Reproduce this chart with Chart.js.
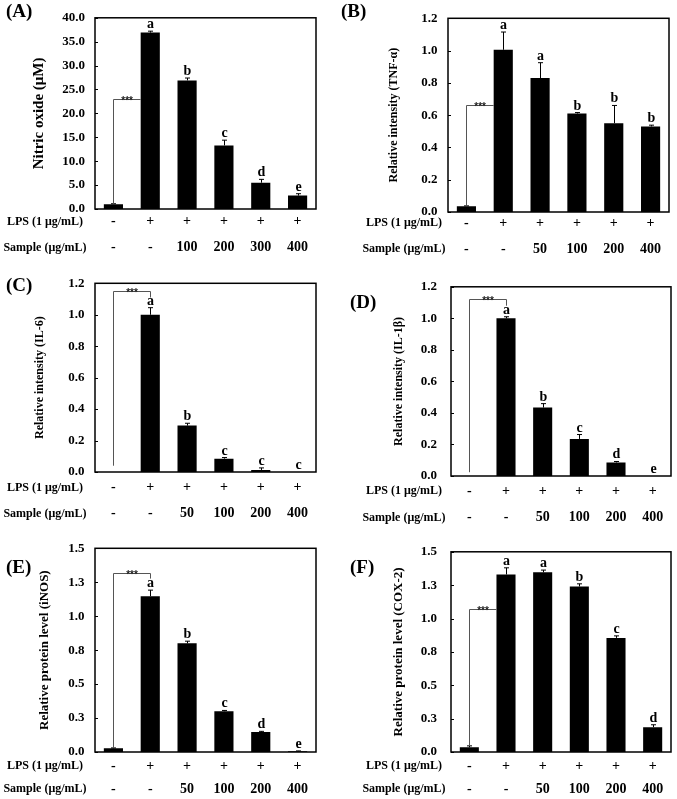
<!DOCTYPE html>
<html>
<head>
<meta charset="utf-8">
<script src="https://cdn.jsdelivr.net/npm/chart.js@4.4.1/dist/chart.umd.min.js"></script>
<style>
  html, body { margin: 0; padding: 0; background: #fff; }
  #wrap { position: relative; width: 677px; height: 799px; }
  canvas { position: absolute; }
</style>
</head>
<body>
<div id="wrap">
  <canvas id="chartA" width="338" height="265" style="left:0;top:0"></canvas>
  <canvas id="chartB" width="339" height="265" style="left:338px;top:0"></canvas>
  <canvas id="chartC" width="338" height="265" style="left:0;top:265px"></canvas>
  <canvas id="chartD" width="339" height="265" style="left:338px;top:265px"></canvas>
  <canvas id="chartE" width="338" height="269" style="left:0;top:530px"></canvas>
  <canvas id="chartF" width="339" height="269" style="left:338px;top:530px"></canvas>
</div>
<script>
const SERIF = "'Liberation Serif', 'Times New Roman', serif";

// x rows
const lpsRow = ['-', '+', '+', '+', '+', '+'];
const sampleRowA = ['-', '-', '100', '200', '300', '400'];
const sampleRowB = ['-', '-', '50', '100', '200', '400'];
const rowNames = ['LPS (1 μg/mL)', 'Sample (μg/mL)'];

// (A) nitric oxide
const noValues = [1.0, 36.9, 26.9, 13.3, 5.5, 2.8];
const noErrors = [0.1, 0.3, 0.5, 1.1, 0.7, 0.4];
const noLetters = ['', 'a', 'b', 'c', 'd', 'e'];
const noBracket = [1.0, 23.1, null];   // start, top, end (null = stop at bar edge)

// (B) TNF-a
const tnfValues = [0.035, 1.005, 0.83, 0.61, 0.55, 0.53];
const tnfErrors = [0.003, 0.11, 0.095, 0.006, 0.11, 0.008];
const tnfLetters = ['', 'a', 'a', 'b', 'b', 'b'];
const tnfBracket = [0.035, 0.66, null];

// (C) IL-6
const il6Values = [0.0, 1.0, 0.295, 0.085, 0.013, 0.0];
const il6Errors = [0, 0.045, 0.015, 0.007, 0.013, 0];
const il6Letters = ['', 'a', 'b', 'c', 'c', 'c'];
const il6Bracket = [0.04, 1.15, 1.11];

// (D) IL-1b
const il1Values = [0.0, 1.0, 0.434, 0.235, 0.086, 0.0];
const il1Errors = [0, 0.01, 0.025, 0.028, 0.006, 0];
const il1Letters = ['', 'a', 'b', 'c', 'd', 'e'];
const il1Bracket = [0.024, 1.12, 1.08];

// (E) iNOS
const inosValues = [0.027, 1.147, 0.80, 0.30, 0.147, 0.005];
const inosErrors = [0.003, 0.045, 0.016, 0.006, 0.005, 0.003];
const inosLetters = ['', 'a', 'b', 'c', 'd', 'e'];
const inosBracket = [0.03, 1.318, 1.277];

// (F) COX-2
const coxValues = [0.035, 1.33, 1.346, 1.24, 0.855, 0.186];
const coxErrors = [0.011, 0.05, 0.017, 0.02, 0.015, 0.018];
const coxLetters = ['', 'a', 'a', 'b', 'c', 'd'];
const coxBracket = [0.046, 1.074, null];

const annotate = {
  id: 'annotate',
  afterDraw(chart, args, o) {
    const { ctx, chartArea: a, scales: { x, y } } = chart;
    const bars = chart.getDatasetMeta(0).data;
    const vals = chart.data.datasets[0].data;
    ctx.save();

    // frame + small inward ticks
    ctx.strokeStyle = '#000';
    ctx.lineWidth = 1.5;
    ctx.strokeRect(a.left, a.top, a.width, a.height);
    ctx.lineWidth = 1;
    y.ticks.forEach((t, i) => {
      const py = Math.round(y.getPixelForTick(i)) + 0.5;
      ctx.beginPath();
      ctx.moveTo(a.left, py);
      ctx.lineTo(a.left + 3, py);
      ctx.stroke();
    });

    // error bars and letters
    ctx.font = 'bold 14px ' + SERIF;
    ctx.textAlign = 'center';
    ctx.textBaseline = 'alphabetic';
    ctx.fillStyle = '#000';
    vals.forEach((v, i) => {
      const bx = Math.round(bars[i].x) + 0.5;
      const top = y.getPixelForValue(v + o.errors[i]);
      if (o.errors[i] > 0) {
        ctx.beginPath();
        ctx.moveTo(bx, y.getPixelForValue(v));
        ctx.lineTo(bx, top);
        ctx.moveTo(bx - 2.5, top);
        ctx.lineTo(bx + 2.5, top);
        ctx.stroke();
      }
      if (o.letters[i]) ctx.fillText(o.letters[i], bx, top - 3);
    });

    // significance bracket
    const [start, high, end] = o.bracket;
    const x0 = Math.round(bars[0].x) + 0.5;
    const x1 = end == null ? bars[1].x - bars[1].width / 2 : Math.round(bars[1].x) + 0.5;
    const yh = Math.round(y.getPixelForValue(high)) + 0.5;
    ctx.strokeStyle = '#555';
    ctx.beginPath();
    ctx.moveTo(x0, y.getPixelForValue(start));
    ctx.lineTo(x0, yh);
    ctx.lineTo(x1, yh);
    if (end != null) ctx.lineTo(x1, y.getPixelForValue(end));
    ctx.stroke();
    ctx.fillStyle = '#222';
    ctx.font = 'bold 10px "Liberation Sans", Arial, sans-serif';
    ctx.fillText('***', (x0 + x1) / 2, yh + 4);

    // row names under the axis
    ctx.fillStyle = '#000';
    ctx.font = 'bold 12px ' + SERIF;
    ctx.textBaseline = 'middle';
    rowNames.forEach((name, i) => {
      ctx.fillText(name, o.rowX, x.top + o.tickPad + o.rowGap / 2 + i * o.rowGap);
    });

    // panel tag
    ctx.font = 'bold 19px ' + SERIF;
    ctx.textAlign = 'left';
    ctx.fillText(o.tag, o.tagX, o.tagY);
    ctx.restore();
  }
};

function makePanel(id, p) {
  const tickPad = p.rowOffset - p.rowGap / 2;
  const tickFont = { family: SERIF, size: 13, weight: 'bold' };
  new Chart(document.getElementById(id), {
    type: 'bar',
    data: {
      labels: p.sample.map((s, i) => [lpsRow[i], s]),
      datasets: [{
        data: p.values,
        backgroundColor: '#000',
        borderWidth: 0,
        barPercentage: 0.52,
        categoryPercentage: 1
      }]
    },
    options: {
      responsive: false,
      animation: false,
      layout: {
        autoPadding: false,
        padding: { left: 0, top: p.box.top, right: p.width - p.box.right, bottom: 0 }
      },
      scales: {
        x: {
          grid: { display: false, drawTicks: false },
          border: { display: false },
          ticks: {
            color: '#000',
            padding: tickPad,
            maxRotation: 0,
            autoSkip: false,
            font: { family: SERIF, size: 14, weight: 'bold', lineHeight: p.rowGap / 14 }
          },
          afterFit: s => { s.height = p.height - p.box.bottom; }
        },
        y: {
          min: 0,
          max: p.max,
          grid: { display: false, drawTicks: false },
          border: { display: false },
          ticks: {
            stepSize: p.step,
            color: '#000',
            padding: p.yPad,
            font: tickFont,
            callback: v => Number(v).toFixed(1)
          },
          title: {
            display: true,
            text: p.title,
            color: '#000',
            font: { family: SERIF, size: p.titleSize, weight: 'bold' },
            padding: { top: p.titleX - p.titleSize * 0.6, bottom: 0 }
          },
          afterFit: s => { s.width = p.box.left; }
        }
      },
      plugins: {
        legend: { display: false },
        tooltip: { enabled: false },
        annotate: {
          errors: p.errors,
          letters: p.letters,
          bracket: p.bracket,
          rowX: p.rowX,
          rowGap: p.rowGap,
          tickPad: tickPad,
          tag: p.tag,
          tagX: p.tagX,
          tagY: p.tagY
        }
      }
    },
    plugins: [annotate]
  });
}

makePanel('chartA', {
  values: noValues, errors: noErrors, letters: noLetters, bracket: noBracket, sample: sampleRowA,
  title: 'Nitric oxide (μM)', titleSize: 15, titleX: 39, max: 40, step: 5,
  width: 338, height: 265, box: { left: 95, top: 6, right: 316, bottom: 209 },
  yPad: 10, rowOffset: 12.7, rowGap: 26, rowX: 45, tag: '(A)', tagX: 6, tagY: 12
});
makePanel('chartB', {
  values: tnfValues, errors: tnfErrors, letters: tnfLetters, bracket: tnfBracket, sample: sampleRowB,
  title: 'Relative intensity (TNF-α)', titleSize: 12, titleX: 56, max: 1.2, step: 0.2,
  width: 339, height: 265, box: { left: 110, top: 10, right: 331, bottom: 212 },
  yPad: 10.5, rowOffset: 11.3, rowGap: 26, rowX: 66, tag: '(B)', tagX: 3, tagY: 12
});
makePanel('chartC', {
  values: il6Values, errors: il6Errors, letters: il6Letters, bracket: il6Bracket, sample: sampleRowB,
  title: 'Relative intensity (IL-6)', titleSize: 12, titleX: 40, max: 1.2, step: 0.2,
  width: 338, height: 265, box: { left: 95, top: 4, right: 316, bottom: 207 },
  yPad: 10.5, rowOffset: 15.6, rowGap: 26, rowX: 45, tag: '(C)', tagX: 6, tagY: 21.5
});
makePanel('chartD', {
  values: il1Values, errors: il1Errors, letters: il1Letters, bracket: il1Bracket, sample: sampleRowB,
  title: 'Relative intensity (IL-1β)', titleSize: 12, titleX: 61, max: 1.2, step: 0.2,
  width: 339, height: 265, box: { left: 113, top: 7, right: 333, bottom: 211 },
  yPad: 14, rowOffset: 15.3, rowGap: 26.3, rowX: 66, tag: '(D)', tagX: 12, tagY: 38.5
});
makePanel('chartE', {
  values: inosValues, errors: inosErrors, letters: inosLetters, bracket: inosBracket, sample: sampleRowB,
  title: 'Relative protein level (iNOS)', titleSize: 13, titleX: 45, max: 1.5, step: 0.25,
  width: 338, height: 269, box: { left: 95, top: 18, right: 316, bottom: 222 },
  yPad: 10.5, rowOffset: 14, rowGap: 23.3, rowX: 45, tag: '(E)', tagX: 6, tagY: 38
});
makePanel('chartF', {
  values: coxValues, errors: coxErrors, letters: coxLetters, bracket: coxBracket, sample: sampleRowB,
  title: 'Relative protein level (COX-2)', titleSize: 13, titleX: 60.5, max: 1.5, step: 0.25,
  width: 339, height: 269, box: { left: 113, top: 18, right: 333, bottom: 222 },
  yPad: 14, rowOffset: 14, rowGap: 23.3, rowX: 66, tag: '(F)', tagX: 12, tagY: 38
});
</script>
</body>
</html>
